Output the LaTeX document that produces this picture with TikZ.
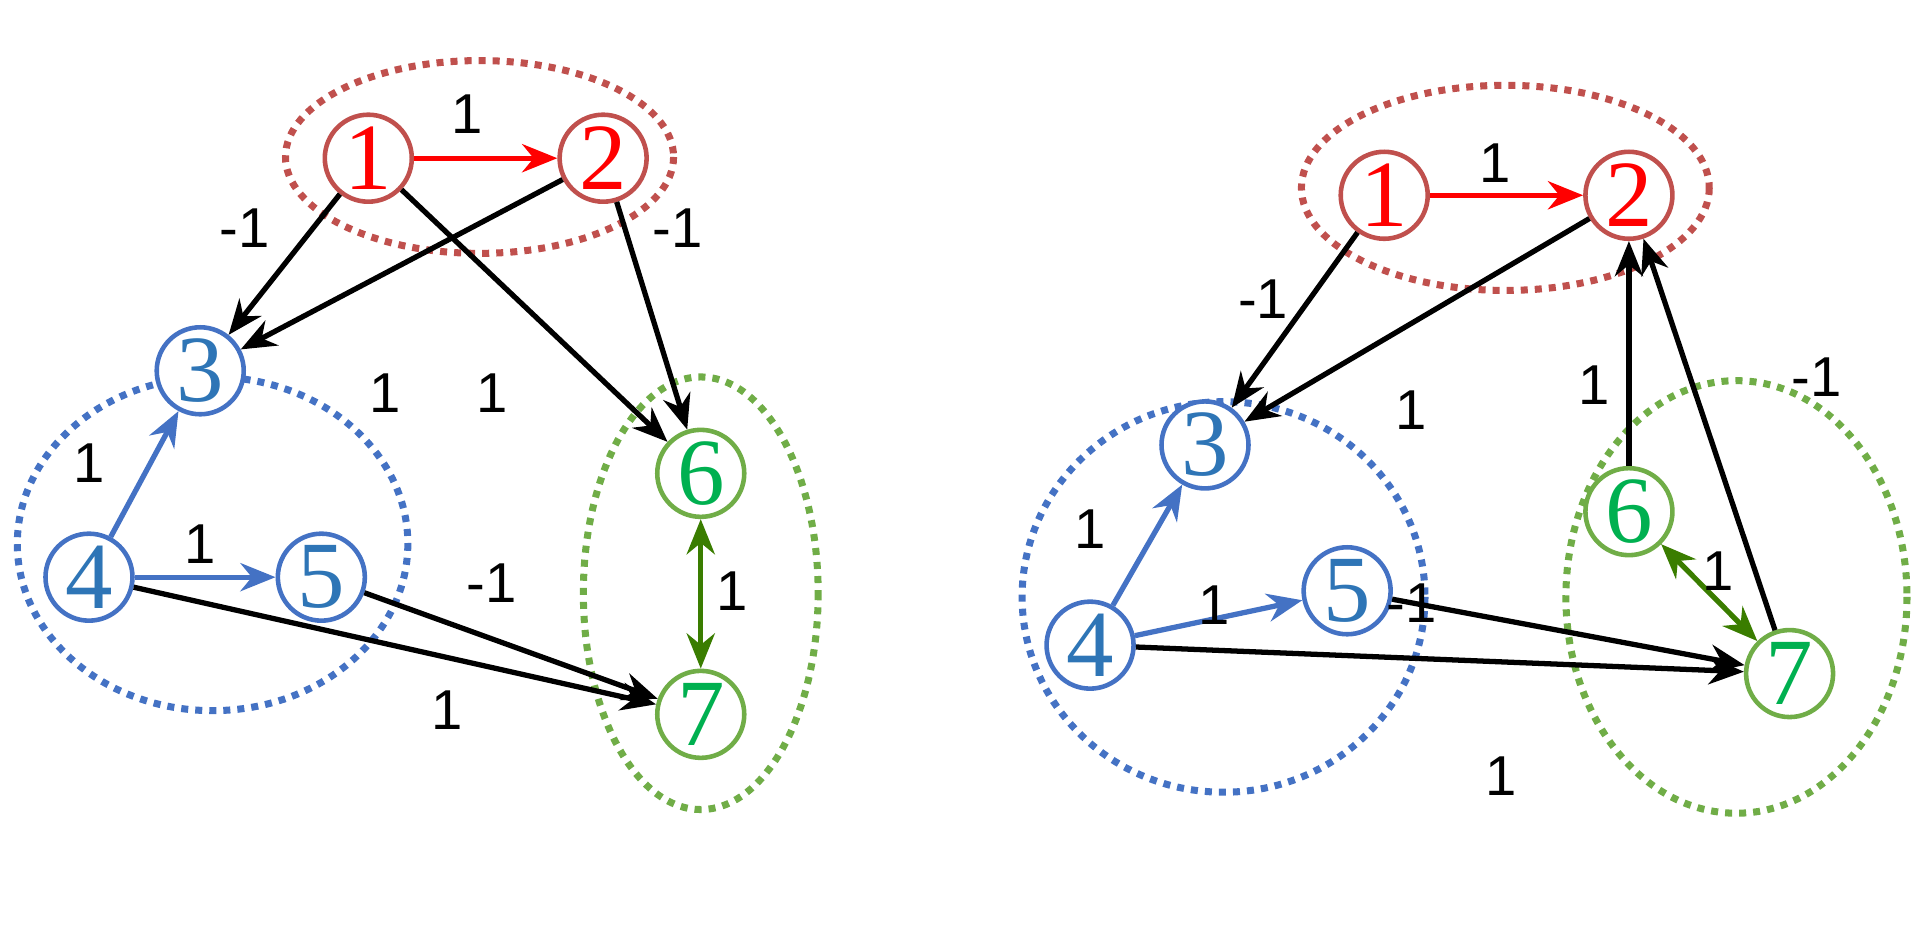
\documentclass[tikz,border=0pt]{standalone}
\usepackage{fontspec}
\setmainfont{Liberation Serif}
\newfontfamily\labelfont{Liberation Sans}
\usetikzlibrary{arrows.meta, positioning}
\definecolor{redC}{HTML}{C0504D}
\definecolor{redA}{HTML}{FF0000}
\definecolor{blueC}{HTML}{4472C4}
\definecolor{blueT}{HTML}{2E75B6}
\definecolor{greenC}{HTML}{70AD47}
\definecolor{greenT}{HTML}{00B050}
\definecolor{greenA}{HTML}{3A7D00}

\tikzset{
  vtx/.style = {circle, draw, line width = 1.3pt, fill = white, minimum size = 0.87cm, inner sep = 0pt, font = \fontsize{27}{27}\selectfont},
  redV/.style = {vtx, draw = redC, text = redA},
  blueV/.style = {vtx, draw = blueC, text = blueT},
  greenV/.style = {vtx, draw = greenC, text = greenT},
  grp/.style = {dotted, line width = 2pt},
  arc/.style = {-{Stealth[length = 10pt, width = 8pt]}, line width = 1.5pt},
  wt/.style = {font = \labelfont\fontsize{16}{16}\selectfont},
  subcap/.style = {font = \fontsize{21}{21}\selectfont}
}

\begin{document}
\begin{tikzpicture}[x = 0.01236cm, y = -0.01236cm]
  \useasboundingbox (0, 0) rectangle (1560, 761);

  % ---------
  % panel (a)
  % ---------
  \draw[grp, redC] (388, 127) ellipse (157 and 78);
  \draw[grp, blueC] (172, 440) ellipse (158 and 135);
  \draw[grp, greenC] (567, 480) ellipse (95 and 175);

  \node[redV] (a1) at (298, 128) {1};
  \node[redV] (a2) at (488, 128) {2};
  \node[blueV] (a3) at (162, 300) {3};
  \node[blueV] (a4) at (72, 467) {4};
  \node[blueV] (a5) at (260, 467) {5};
  \node[greenV] (a6) at (567, 383) {6};
  \node[greenV] (a7) at (567, 578) {7};

  \draw[arc, redA] (a1) -- (a2);
  \draw[arc] (a1) -- (a3);
  \draw[arc] (a2) -- (a3);
  \draw[arc] (a1) -- (a6);
  \draw[arc] (a2) -- (a6);
  \draw[arc, blueC] (a4) -- (a3);
  \draw[arc, blueC] (a4) -- (a5);
  \draw[arc] (a5) -- (a7);
  \draw[arc] (a4) -- (a7);
  \draw[arc, greenA, {Stealth[length = 10pt, width = 8pt]}-{Stealth[length = 10pt, width = 8pt]}] (a6) -- (a7);

  \node[wt] (wa12) at (378, 92) {1};
  \node[wt] (wa13) at (198, 185) {-1};
  \node[wt] (wa23) at (312, 318) {1};
  \node[wt] (wa16) at (398, 318) {1};
  \node[wt] (wa26) at (548, 185) {-1};
  \node[wt] (wa43) at (72, 375) {1};
  \node[wt] (wa45) at (162, 440) {1};
  \node[wt] (wa57) at (398, 472) {-1};
  \node[wt] (wa67) at (592, 478) {1};
  \node[wt] (wa47) at (362, 575) {1};

  \node[subcap] (capA) at (322, 863) {(\textbf{a})};

  % ---------
  % panel (b)
  % ---------
  \draw[grp, redC] (1218, 152) ellipse (165 and 83);
  \draw[grp, blueC] (990, 483) ellipse (163 and 158);
  \draw[grp, greenC] (1405, 483) ellipse (138 and 175);

  \node[redV] (b1) at (1120, 158) {1};
  \node[redV] (b2) at (1318, 158) {2};
  \node[blueV] (b3) at (975, 360) {3};
  \node[blueV] (b4) at (882, 522) {4};
  \node[blueV] (b5) at (1090, 478) {5};
  \node[greenV] (b6) at (1318, 414) {6};
  \node[greenV] (b7) at (1448, 545) {7};

  \draw[arc, redA] (b1) -- (b2);
  \draw[arc] (b1) -- (b3);
  \draw[arc] (b2) -- (b3);
  \draw[arc] (b6) -- (b2);
  \draw[arc] (b7) -- (b2);
  \draw[arc, blueC] (b4) -- (b3);
  \draw[arc, blueC] (b4) -- (b5);
  \draw[arc] (b5) -- (b7);
  \draw[arc] (b4) -- (b7);
  \draw[arc, greenA, {Stealth[length = 10pt, width = 8pt]}-{Stealth[length = 10pt, width = 8pt]}] (b6) -- (b7);

  \node[wt] (wb12) at (1210, 132) {1};
  \node[wt] (wb13) at (1022, 242) {-1};
  \node[wt] (wb23) at (1142, 332) {1};
  \node[wt] (wb62) at (1290, 312) {1};
  \node[wt] (wb72) at (1470, 305) {-1};
  \node[wt] (wb43) at (882, 428) {1};
  \node[wt] (wb45) at (982, 490) {1};
  \node[wt] (wb57) at (1142, 488) {-1};
  \node[wt] (wb67) at (1390, 462) {1};
  \node[wt] (wb47) at (1215, 628) {1};

  \node[subcap] (capB) at (1205, 863) {(\textbf{b})};
\end{tikzpicture}
\end{document}
